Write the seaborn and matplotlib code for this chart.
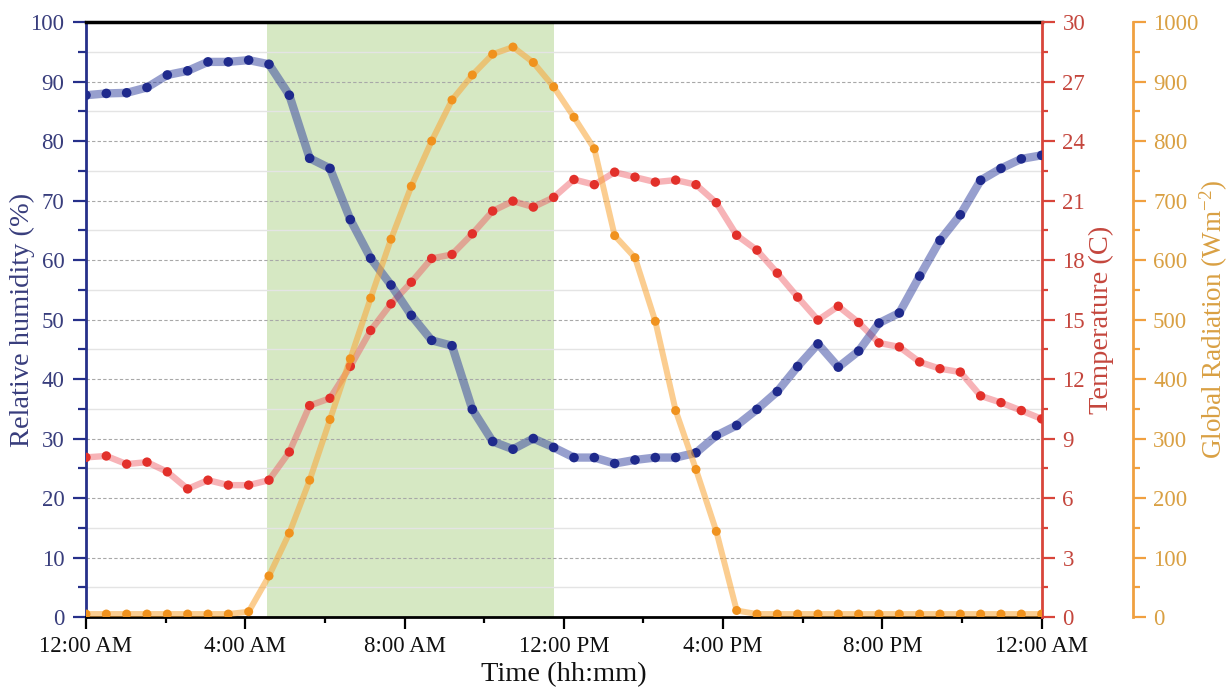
import numpy as np
import matplotlib
matplotlib.use("Agg")
import matplotlib.pyplot as plt
import seaborn as sns
from matplotlib.ticker import MultipleLocator

# ---------------- data ----------------
hours = np.linspace(0, 24, 48)  # sampling grid of the records

humidity = [87.7, 88.0, 88.1, 89.0, 91.1, 91.8, 93.3, 93.3, 93.6, 92.9,
            87.7, 77.1, 75.4, 66.8, 60.3, 55.8, 50.7, 46.5, 45.6, 34.9,
            29.5, 28.2, 30.0, 28.5, 26.8, 26.8, 25.8, 26.4, 26.8, 26.8,
            27.6, 30.5, 32.2, 34.9, 37.9, 42.1, 45.9, 42.0, 44.7, 49.4,
            51.1, 57.3, 63.3, 67.6, 73.4, 75.4, 77.0, 77.6]

temperature = [8.05, 8.12, 7.71, 7.81, 7.32, 6.46, 6.90, 6.65, 6.65, 6.90,
               8.32, 10.66, 11.03, 12.64, 14.45, 15.79, 16.88, 18.08, 18.28, 19.32,
               20.47, 20.97, 20.67, 21.16, 22.06, 21.80, 22.43, 22.18, 21.93, 22.03,
               21.80, 20.89, 19.25, 18.50, 17.34, 16.13, 14.97, 15.67, 14.85, 13.82,
               13.62, 12.86, 12.52, 12.35, 11.15, 10.81, 10.41, 9.99]

radiation = [5, 5, 5, 5, 5, 5, 5, 5, 9, 69,
             141, 230, 332, 434, 536, 635, 724, 800, 869, 911,
             946, 958, 932, 891, 840, 787, 641, 604, 497, 347,
             248, 144, 11, 5, 5, 5, 5, 5, 5, 5,
             5, 5, 5, 5, 5, 5, 5, 5]

tick_hours = [0, 4, 8, 12, 16, 20, 24]
tick_labels = ["12:00 AM", "4:00 AM", "8:00 AM", "12:00 PM",
               "4:00 PM", "8:00 PM", "12:00 AM"]
daylight_start, daylight_end = 4.55, 11.75

# ---------------- style ----------------
sns.set_theme(style="ticks")
plt.rcParams["font.family"] = ["Liberation Serif", "DejaVu Serif"]
plt.rcParams["mathtext.default"] = "regular"

NAVY = "#26308a"
NAVY_TXT = "#383d7c"
RED = "#d8453a"
RED_TXT = "#c4463d"
ORANGE = "#f0a040"
ORANGE_TXT = "#d9a043"
TICK_FS = 16.5
LABEL_FS = 20.5

fig = plt.figure(figsize=(12.32, 6.95), dpi=100)
ax = fig.add_axes([0.0698, 0.1122, 0.7757, 0.8561])

ax.axvspan(daylight_start, daylight_end, color="#d6e8c3", lw=0, zorder=0.1)
ax.set_axisbelow(True)
ax.set_xlim(0, 24)
ax.set_ylim(0, 100)
ax.yaxis.set_major_locator(MultipleLocator(10))
ax.yaxis.set_minor_locator(MultipleLocator(5))
ax.yaxis.grid(True, which="major", ls=(0, (3, 2)), color="#a8a8a8", lw=0.8)
ax.yaxis.grid(True, which="minor", ls="-", color="#e4e4e4", lw=1.0)
ax.set_xticks(tick_hours, tick_labels)
ax.xaxis.set_minor_locator(MultipleLocator(2))

ax.tick_params(axis="x", which="major", length=8.6, width=1.6, color="black",
               labelsize=TICK_FS, labelcolor="#111111", pad=5)
ax.tick_params(axis="x", which="minor", length=4.3, width=1.6, color="black")
ax.tick_params(axis="y", which="major", length=9.5, width=1.6, color=NAVY,
               labelsize=TICK_FS, labelcolor=NAVY_TXT, pad=6)
ax.tick_params(axis="y", which="minor", length=5.5, width=1.6, color=NAVY)

ax.spines["right"].set_visible(False)
ax.spines["left"].set_color(NAVY)
ax.spines["left"].set_linewidth(2)
ax.spines["top"].set_color("black")
ax.spines["top"].set_linewidth(2.5)
ax.spines["bottom"].set_color("black")
ax.spines["bottom"].set_linewidth(2)

ax.set_xlabel("Time (hh:mm)", fontsize=LABEL_FS, color="#111111", labelpad=4)
ax.set_ylabel("Relative humidity (%)", fontsize=LABEL_FS, color=NAVY_TXT)
ax.yaxis.set_label_coords(-0.053, 0.5)

# ---------------- temperature (red) ----------------
ax_t = ax.twinx()
sns.lineplot(x=hours, y=temperature, ax=ax_t, color="#ec4a55", alpha=0.42,
             lw=4.6, zorder=2)
sns.scatterplot(x=hours, y=temperature, ax=ax_t, color="#e2302a", s=46,
                edgecolor="none", zorder=3)
ax_t.set_ylim(0, 30)
ax_t.yaxis.set_major_locator(MultipleLocator(3))
ax_t.yaxis.set_minor_locator(MultipleLocator(1.5))
ax_t.tick_params(axis="y", which="major", length=9, width=1.6, color=RED,
                 labelsize=TICK_FS, labelcolor=RED_TXT, pad=6)
ax_t.tick_params(axis="y", which="minor", length=4.5, width=1.6, color=RED)
for s in ["left", "top", "bottom"]:
    ax_t.spines[s].set_visible(False)
ax_t.spines["right"].set_color(RED)
ax_t.spines["right"].set_linewidth(2)
ax_t.set_ylabel("Temperature (C)", fontsize=LABEL_FS, color=RED_TXT)
ax_t.yaxis.set_label_coords(1.049, 0.5)

# ---------------- humidity (blue) ----------------
ax_h = ax.twinx()
sns.lineplot(x=hours, y=humidity, ax=ax_h, color="#30409e", alpha=0.5,
             lw=6.0, zorder=2)
sns.scatterplot(x=hours, y=humidity, ax=ax_h, color="#1f2a8c", s=48,
                edgecolor="none", zorder=3)
ax_h.axis("off")
ax_h.set_ylim(0, 100)

# ---------------- radiation (orange) ----------------
ax_r = ax.twinx()
sns.lineplot(x=hours, y=radiation, ax=ax_r, color="#f9a535", alpha=0.55,
             lw=4.3, zorder=2)
sns.scatterplot(x=hours, y=radiation, ax=ax_r, color="#f0921e", s=42,
                edgecolor="none", zorder=3)
ax_r.set_ylim(0, 1000)
ax_r.yaxis.set_major_locator(MultipleLocator(100))
ax_r.yaxis.set_minor_locator(MultipleLocator(50))
ax_r.spines["right"].set_position(("axes", 1.0955))
for s in ["left", "top", "bottom"]:
    ax_r.spines[s].set_visible(False)
ax_r.spines["right"].set_color(ORANGE)
ax_r.spines["right"].set_linewidth(2)
ax_r.tick_params(axis="y", which="major", length=9.5, width=1.6, color=ORANGE,
                 labelsize=TICK_FS, labelcolor=ORANGE_TXT, pad=5)
ax_r.tick_params(axis="y", which="minor", length=5, width=1.6, color=ORANGE)
ax_r.set_ylabel("Global Radiation (Wm$^{-2}$)", fontsize=19.5,
                color=ORANGE_TXT)
ax_r.yaxis.set_label_coords(1.163, 0.5)

for a in (ax_t, ax_h, ax_r):
    a.set_xlim(0, 24)

fig.savefig("out.png", dpi=100)
